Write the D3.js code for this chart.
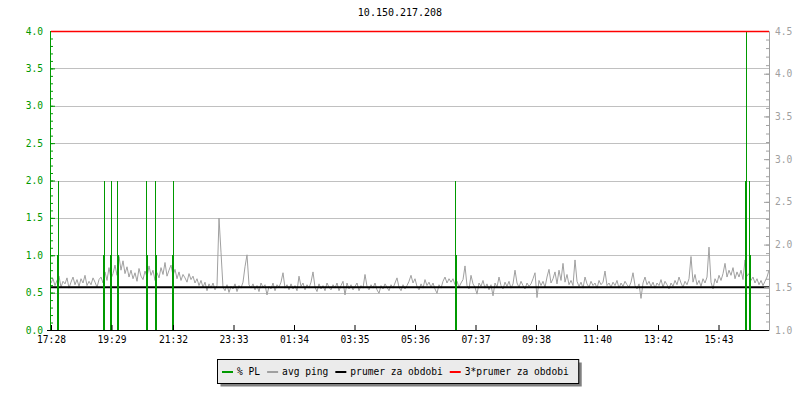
<!DOCTYPE html>
<html>
<head>
<meta charset="utf-8">
<script src="https://cdn.jsdelivr.net/npm/d3@7.9.0/dist/d3.min.js"></script>
<style>
  body { margin: 0; background: #fff; }
  svg { display: block; font-family: "DejaVu Sans Mono", monospace; }
</style>
</head>
<body>
<svg id="chart" width="800" height="400"></svg>
<script>
const title = '10.150.217.208';
const startTime = '17:28';
const endTime = '17:24';
const xTickLabels = ['17:28', '19:29', '21:32', '23:33', '01:34', '03:35', '05:36', '07:37', '09:38', '11:40', '13:42', '15:43'];

// avg ping (ms, right axis), one sample every 4 minutes from 17:28
const pingStep = 4;
const pingValues = [
  1.55, 1.60, 1.52, 1.58, 1.63, 1.50, 1.57, 1.54, 1.61, 1.49,
  1.56, 1.62, 1.53, 1.59, 1.51, 1.60, 1.55, 1.64, 1.52, 1.57,
  1.53, 1.61, 1.56, 1.50, 1.59, 1.62, 1.55, 1.68, 1.58, 1.73,
  1.60, 1.66, 1.76, 1.64, 1.86, 1.70, 1.81, 1.66, 1.74, 1.62,
  1.70, 1.60, 1.67, 1.57, 1.72, 1.63, 1.59, 1.69, 1.62, 1.75,
  1.64, 1.70, 1.58, 1.67, 1.61, 1.73, 1.65, 1.79, 1.63, 1.70,
  1.76, 1.64, 1.71, 1.60, 1.68, 1.58, 1.65, 1.61, 1.56, 1.66,
  1.59, 1.63, 1.55, 1.60, 1.52, 1.58, 1.50, 1.56, 1.46, 1.54,
  1.49, 1.55, 1.47, 1.52, 2.31, 1.91, 1.50, 1.46, 1.53, 1.44,
  1.51, 1.48, 1.54, 1.45, 1.52, 1.49, 1.56, 1.74, 1.88, 1.53,
  1.49, 1.54, 1.47, 1.52, 1.45, 1.55, 1.50, 1.53, 1.41, 1.51,
  1.48, 1.55, 1.46, 1.53, 1.50, 1.56, 1.67, 1.49, 1.53, 1.47,
  1.54, 1.48, 1.52, 1.46, 1.63, 1.51, 1.55, 1.47, 1.53, 1.49,
  1.56, 1.68, 1.50, 1.45, 1.54, 1.48, 1.52, 1.46, 1.55, 1.50,
  1.47, 1.53, 1.49, 1.55, 1.46, 1.52, 1.57, 1.41, 1.55, 1.48,
  1.53, 1.47, 1.51, 1.55, 1.46, 1.52, 1.49, 1.65, 1.51, 1.47,
  1.53, 1.49, 1.55, 1.47, 1.43, 1.52, 1.48, 1.54, 1.50, 1.46,
  1.53, 1.49, 1.55, 1.61, 1.50, 1.46, 1.53, 1.48, 1.52, 1.57,
  1.64, 1.55, 1.60, 1.51, 1.47, 1.54, 1.49, 1.59, 1.52, 1.56,
  1.50, 1.55, 1.48, 1.43, 1.53, 1.49, 1.57, 1.62, 1.55, 1.60,
  1.56, 1.60, 1.53, 1.57, 1.50, 1.55, 1.59, 1.75, 1.52, 1.48,
  1.64, 1.54, 1.50, 1.42, 1.55, 1.51, 1.58, 1.49, 1.54, 1.47,
  1.53, 1.40, 1.55, 1.50, 1.62, 1.52, 1.48, 1.56, 1.51, 1.57,
  1.49, 1.54, 1.70, 1.55, 1.50, 1.57, 1.52, 1.48, 1.55, 1.51,
  1.54, 1.60, 1.67, 1.38, 1.58, 1.52, 1.57, 1.50, 1.62, 1.71,
  1.55, 1.60, 1.68, 1.54, 1.70, 1.58, 1.78, 1.56, 1.65, 1.53,
  1.58, 1.52, 1.82, 1.57, 1.51, 1.56, 1.49, 1.62, 1.54, 1.50,
  1.57, 1.52, 1.55, 1.49, 1.58, 1.53, 1.56, 1.69, 1.52, 1.55,
  1.50, 1.56, 1.52, 1.58, 1.49, 1.55, 1.51, 1.57, 1.53, 1.50,
  1.56, 1.67, 1.52, 1.48, 1.54, 1.37, 1.55, 1.62, 1.53, 1.57,
  1.51, 1.56, 1.49, 1.55, 1.52, 1.59, 1.50, 1.57, 1.53, 1.48,
  1.55, 1.51, 1.58, 1.53, 1.62, 1.55, 1.50, 1.57, 1.53, 1.60,
  1.86, 1.56, 1.65, 1.53, 1.58, 1.51, 1.60, 1.55, 1.62, 1.97,
  1.56, 1.48, 1.60, 1.55, 1.64, 1.58, 1.66, 1.78, 1.62, 1.70,
  1.64, 1.73, 1.60, 1.68, 1.62, 1.70, 1.59, 1.82, 1.63, 1.66,
  1.58, 1.62, 1.55, 1.60, 1.53, 1.58, 1.52, 1.57, 1.62, 1.70
];
const pingMean = 1.5;

// packet loss (%), 2-minute samples; all other samples are 0
const plStep = 2;
const plTimes = ['17:40', '17:42', '19:12', '19:14', '19:26', '19:28', '19:40', '19:42', '20:38', '20:40',
                 '20:56', '20:58', '21:30', '21:32', '06:56', '06:58', '16:36', '16:38', '16:44', '16:46'];
const plValues = [1, 2, 1, 2, 1, 2, 2, 1, 2, 1,
                  2, 1, 1, 2, 2, 1, 2, 4, 2, 1];

const leftTicks = [0, 0.5, 1, 1.5, 2, 2.5, 3, 3.5, 4];
const rightTicks = [1, 1.5, 2, 2.5, 3, 3.5, 4, 4.5];
const legendLabels = ['% PL', 'avg ping', 'prumer za obdobi', '3*prumer za obdobi'];
const legendColors = ['#009900', '#a0a0a0', '#000000', '#ff0000'];

const green = '#009900';
const gray = '#a0a0a0';

function toMin(s) {
  const [h, m] = s.split(':').map(Number);
  return h * 60 + m;
}
const day0 = new Date(2020, 0, 1);
const startMin = toMin(startTime);
function toDate(s) {
  let m = toMin(s);
  if (m < startMin) m += 1440;
  return new Date(day0.getTime() + m * 60000);
}

const svg = d3.select('#chart');
const x = d3.scaleTime().domain([toDate(startTime), toDate(endTime)]).range([51, 769]);
const yL = d3.scaleLinear().domain([0, 4]).range([330, 31]);
const yR = d3.scaleLinear().domain([1, 4.5]).range([330, 31]);

svg.append('text')
  .attr('x', 400).attr('y', 16)
  .attr('text-anchor', 'middle')
  .attr('font-size', '10px')
  .text(title);

// grid
svg.append('g').selectAll('line')
  .data(leftTicks.filter(d => d > 0 && d < 4))
  .join('line')
  .attr('x1', 51).attr('x2', 769)
  .attr('y1', d => Math.round(yL(d)) + 0.5).attr('y2', d => Math.round(yL(d)) + 0.5)
  .attr('stroke', '#c0c0c0');

// avg ping
const pingData = pingValues.map((v, i) => ({ t: d3.timeMinute.offset(toDate(startTime), i * pingStep), v }));
svg.append('path')
  .datum(pingData)
  .attr('fill', 'none')
  .attr('stroke', gray)
  .attr('stroke-width', 1)
  .attr('d', d3.line().x(d => x(d.t)).y(d => yR(d.v)));

// mean
svg.append('line')
  .attr('x1', 51).attr('x2', 769)
  .attr('y1', yR(pingMean)).attr('y2', yR(pingMean))
  .attr('stroke', '#000').attr('stroke-width', 2);

// packet loss
svg.append('g').selectAll('rect')
  .data(plTimes.map((t, i) => ({ t: toDate(t), v: plValues[i] })))
  .join('rect')
  .attr('x', d => x(d.t))
  .attr('width', d => x(d3.timeMinute.offset(d.t, plStep)) - x(d.t))
  .attr('y', d => yL(d.v))
  .attr('height', d => yL(0) - yL(d.v))
  .attr('fill', green)
  .attr('shape-rendering', 'crispEdges');

// axes
const minorL = d3.range(0, 41).map(d => d / 10);
const minorR = d3.range(10, 46).map(d => d / 10);

const gl = svg.append('g').attr('transform', 'translate(50,0)');
gl.call(d3.axisLeft(yL).tickValues(minorL).tickSize(-3).tickSizeOuter(0).tickFormat(''));
gl.append('g').call(d3.axisLeft(yL).tickValues(leftTicks).tickSize(-5).tickSizeOuter(0).tickPadding(7).tickFormat(d3.format('.1f')));
gl.selectAll('path, line').attr('stroke', green);
gl.selectAll('text').attr('fill', green).attr('font-size', '9.6px').attr('font-family', '"DejaVu Sans Mono", monospace');

const gr = svg.append('g').attr('transform', 'translate(769,0)');
gr.call(d3.axisRight(yR).tickValues(minorR).tickSize(-3).tickSizeOuter(0).tickFormat(''));
gr.append('g').call(d3.axisRight(yR).tickValues(rightTicks).tickSize(-5).tickSizeOuter(0).tickPadding(6).tickFormat(d3.format('.1f')));
gr.selectAll('path, line').attr('stroke', gray);
gr.selectAll('text').attr('fill', gray).attr('font-size', '9.6px').attr('font-family', '"DejaVu Sans Mono", monospace');

const gx = svg.append('g').attr('transform', 'translate(0,330)');
gx.call(d3.axisBottom(x).tickValues(xTickLabels.map(toDate)).tickSize(-5).tickSizeOuter(0).tickPadding(6).tickFormat(d3.timeFormat('%H:%M')));
gx.selectAll('path, line').attr('stroke', '#000');
gx.select('.domain').attr('d', 'M47,0.5H769');
gx.selectAll('text').attr('fill', '#000').attr('font-size', '9.6px').attr('font-family', '"DejaVu Sans Mono", monospace');

// 3 * mean, drawn over the top of the plot
svg.append('line')
  .attr('x1', 51).attr('x2', 769)
  .attr('y1', yR(3 * pingMean) + 0.5).attr('y2', yR(3 * pingMean) + 0.5)
  .attr('stroke', '#ff0000').attr('stroke-width', 1.5);

// legend
const legend = svg.append('g');
const shadow = legend.append('rect').attr('fill', '#808080');
const box = legend.append('rect').attr('fill', '#ebebeb').attr('stroke', '#000');
let lx = 222;
legendLabels.forEach((label, i) => {
  legend.append('line')
    .attr('x1', lx).attr('x2', lx + 11)
    .attr('y1', 372).attr('y2', 372)
    .attr('stroke', legendColors[i]).attr('stroke-width', 2);
  const t = legend.append('text')
    .attr('x', lx + 15).attr('y', 375)
    .attr('font-size', '9.6px')
    .text(label);
  lx += 15 + t.node().getComputedTextLength() + 7;
});
const bx0 = 217.5, by0 = 359.5, bw = lx + 3 - bx0, bh = 24;
box.attr('x', bx0).attr('y', by0).attr('width', bw).attr('height', bh);
shadow.attr('x', bx0 + 3).attr('y', by0 + 3).attr('width', bw).attr('height', bh);
</script>
</body>
</html>
